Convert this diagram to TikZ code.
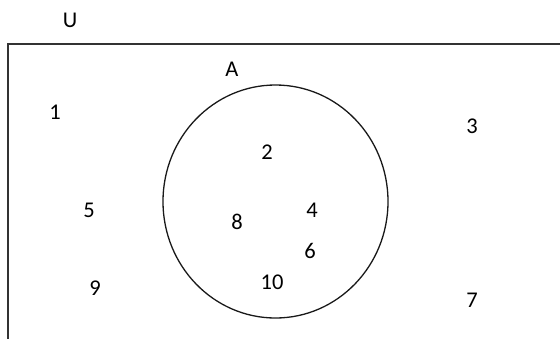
\documentclass[tikz,border=0pt]{standalone}
\usepackage{fontspec}
\setmainfont{Carlito}
\begin{document}
\begin{tikzpicture}[x=1pt,y=-1pt,
  lbl/.style={inner sep=0pt,font=\fontsize{22.5}{26}\selectfont},
  universe/.style={draw=black!80,line width=2.2pt},
  setcircle/.style={draw=black!90,line width=1.3pt}]
\useasboundingbox (0,0) rectangle (560,338);
\begin{scope}
\clip (0,0) rectangle (560,338);
\draw[universe] (8,44) rectangle (600,380);
\end{scope}
\draw[setcircle] (275.5,201.5) ellipse [x radius=112.5, y radius=116.5];
\node[lbl] (U) at (70,20) {U};
\node[lbl] (A) at (232,69) {A};
\node[lbl] (n1) at (55,112) {1};
\node[lbl] (n3) at (472,126) {3};
\node[lbl] (n2) at (267,152) {2};
\node[lbl] (n5) at (89,210) {5};
\node[lbl] (n8) at (237,222) {8};
\node[lbl] (n4) at (312,210) {4};
\node[lbl] (n6) at (310,251) {6};
\node[lbl] (n10) at (272,282) {10};
\node[lbl] (n9) at (95,288) {9};
\node[lbl] (n7) at (472,300) {7};
\end{tikzpicture}
\end{document}
